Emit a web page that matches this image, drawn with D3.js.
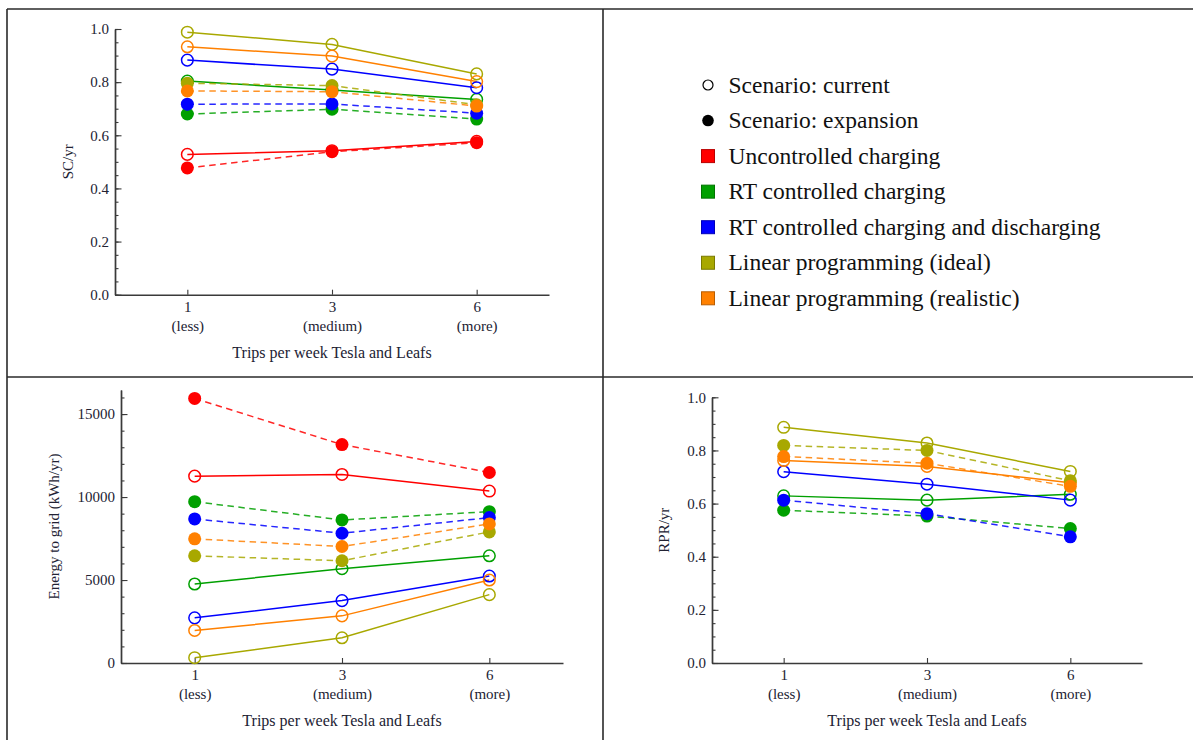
<!DOCTYPE html>
<html>
<head>
<meta charset="utf-8">
<script src="https://cdn.jsdelivr.net/npm/d3@7"></script>
<style>
  html, body { margin: 0; padding: 0; background: #fff; }
  svg { display: block; }
  text { font-family: "Liberation Serif", "Times New Roman", serif; }
</style>
</head>
<body>
<svg id="chart" width="1193" height="740"></svg>
<script>
// ---- data ----
const tripCategories = ["1", "3", "6"];
const tripLabels = ["(less)", "(medium)", "(more)"];
const methodNames = [
  "Uncontrolled charging",
  "RT controlled charging",
  "RT controlled charging and discharging",
  "Linear programming (ideal)",
  "Linear programming (realistic)"
];
const scenarioNames = ["Scenario: current", "Scenario: expansion"];
const xAxisTitle = "Trips per week Tesla and Leafs";

// rows follow methodNames, columns follow tripCategories
const scCurrent = [
  [0.528, 0.542, 0.577],
  [0.804, 0.770, 0.735],
  [0.883, 0.849, 0.779],
  [0.988, 0.942, 0.831],
  [0.933, 0.898, 0.802]
];
const scExpansion = [
  [0.477, 0.538, 0.572],
  [0.680, 0.698, 0.661],
  [0.717, 0.718, 0.683],
  [0.796, 0.787, 0.715],
  [0.767, 0.764, 0.710]
];
const gridCurrent = [
  [11260, 11360, 10360],
  [4760, 5680, 6460],
  [2720, 3760, 5240],
  [320, 1520, 4120],
  [1960, 2840, 5000]
];
const gridExpansion = [
  [15940, 13160, 11480],
  [9720, 8620, 9120],
  [8680, 7820, 8760],
  [6460, 6160, 7900],
  [7480, 7020, 8380]
];
const rprCurrent = [
  null,
  [0.629, 0.613, 0.635],
  [0.720, 0.673, 0.613],
  [0.887, 0.828, 0.721],
  [0.762, 0.740, 0.678]
];
const rprExpansion = [
  null,
  [0.575, 0.553, 0.506],
  [0.613, 0.562, 0.475],
  [0.819, 0.800, 0.686],
  [0.777, 0.752, 0.665]
];

const ratioMajorTicks = [0, 0.2, 0.4, 0.6, 0.8, 1.0];
const ratioMinorTicks = d3.range(0, 1.0001, 0.05);
const gridMajorTicks = [0, 5000, 10000, 15000];
const gridMinorTicks = d3.range(0, 16001, 1000);

// ---- styling ----
const methodColors = ["#ff0000", "#00a000", "#0000ff", "#a8a800", "#ff8000"];
const axisColor = "#3a3a3a";
const labelColor = "#222233";
const tickFont = 15;
const titleFont = 16;

const svg = d3.select("#chart");

// table frame around the four cells
const frame = svg.append("g").attr("stroke", "#2a2a2a").attr("stroke-width", 1.6);
frame.append("line").attr("x1", 7).attr("y1", 9).attr("x2", 1193).attr("y2", 9);
frame.append("line").attr("x1", 7).attr("y1", 9).attr("x2", 7).attr("y2", 740);
frame.append("line").attr("x1", 603).attr("y1", 9).attr("x2", 603).attr("y2", 740);
frame.append("line").attr("x1", 7).attr("y1", 377).attr("x2", 1193).attr("y2", 377);

const panels = [
  { current: scCurrent, expansion: scExpansion, yTitle: "SC/yr",
    x0: 115, x1: 549, yTop: 29, yBot: 294.7, domain: [0, 1],
    major: ratioMajorTicks, minor: ratioMinorTicks, fmt: d3.format(".1f"), yTitleX: 73 },
  { current: gridCurrent, expansion: gridExpansion, yTitle: "Energy to grid (kWh/yr)",
    x0: 121, x1: 563, yTop: 390, yBot: 663, domain: [0, 16450],
    major: gridMajorTicks, minor: gridMinorTicks, fmt: d3.format("d"), yTitleX: 59 },
  { current: rprCurrent, expansion: rprExpansion, yTitle: "RPR/yr",
    x0: 712, x1: 1142, yTop: 397.3, yBot: 663, domain: [0, 1],
    major: ratioMajorTicks, minor: ratioMinorTicks, fmt: d3.format(".1f"), yTitleX: 669 }
];

function styleAxis(g) {
  g.attr("font-family", null).attr("font-size", null);
  g.select(".domain").attr("stroke", axisColor).attr("stroke-width", 1.4);
  g.selectAll(".tick line").attr("stroke", axisColor).attr("stroke-width", 1.1);
  g.selectAll(".tick text").attr("fill", labelColor).style("font-size", tickFont + "px");
}

function drawPanel(p) {
  const g = svg.append("g");
  const x = d3.scalePoint().domain(tripCategories).range([p.x0, p.x1]).padding(0.5);
  const y = d3.scaleLinear().domain(p.domain).range([p.yBot, p.yTop]);

  // minor y ticks
  g.append("g")
    .attr("transform", `translate(${p.x0},0)`)
    .call(d3.axisLeft(y).tickValues(p.minor).tickSizeInner(-3.5).tickSizeOuter(0).tickFormat(""))
    .call(styleAxis);
  // major y ticks
  g.append("g")
    .attr("transform", `translate(${p.x0},0)`)
    .call(d3.axisLeft(y).tickValues(p.major).tickSizeInner(-6.5).tickSizeOuter(0).tickPadding(6).tickFormat(p.fmt))
    .call(styleAxis);

  // x axis with two-line category labels
  const xg = g.append("g")
    .attr("transform", `translate(0,${p.yBot})`)
    .call(d3.axisBottom(x).tickSizeInner(-5).tickSizeOuter(0).tickPadding(6.5))
    .call(styleAxis);
  xg.selectAll(".tick").each(function (d, i) {
    d3.select(this).append("text")
      .attr("y", 36)
      .attr("text-anchor", "middle")
      .attr("fill", labelColor)
      .style("font-size", tickFont + "px")
      .text(tripLabels[i]);
  });

  // axis titles
  g.append("text")
    .attr("x", (p.x0 + p.x1) / 2)
    .attr("y", p.yBot + 63)
    .attr("text-anchor", "middle")
    .attr("fill", labelColor)
    .style("font-size", titleFont + "px")
    .text(xAxisTitle);
  g.append("text")
    .attr("transform", `translate(${p.yTitleX},${(p.yTop + p.yBot) / 2}) rotate(-90)`)
    .attr("text-anchor", "middle")
    .attr("fill", labelColor)
    .style("font-size", tickFont + "px")
    .text(p.yTitle);

  const line = d3.line().x((d, i) => x(tripCategories[i])).y(d => y(d));

  // lines: current solid, expansion dashed
  methodNames.forEach((m, k) => {
    if (p.current[k]) {
      g.append("path").datum(p.current[k])
        .attr("d", line).attr("fill", "none")
        .attr("stroke", methodColors[k]).attr("stroke-width", 1.5);
    }
    if (p.expansion[k]) {
      g.append("path").datum(p.expansion[k])
        .attr("d", line).attr("fill", "none")
        .attr("stroke", methodColors[k]).attr("stroke-width", 1.5)
        .attr("stroke-dasharray", "6.5,4.5").attr("stroke-opacity", 0.85);
    }
  });

  // markers: open circles for current, filled for expansion
  methodNames.forEach((m, k) => {
    if (!p.current[k]) return;
    g.append("g").selectAll("circle").data(p.current[k]).join("circle")
      .attr("cx", (d, i) => x(tripCategories[i])).attr("cy", d => y(d))
      .attr("r", 5.8).attr("fill", "none")
      .attr("stroke", methodColors[k]).attr("stroke-width", 1.5);
  });
  methodNames.forEach((m, k) => {
    if (!p.expansion[k]) return;
    g.append("g").selectAll("circle").data(p.expansion[k]).join("circle")
      .attr("cx", (d, i) => x(tripCategories[i])).attr("cy", d => y(d))
      .attr("r", 6.5).attr("fill", methodColors[k]);
  });
}

panels.forEach(drawPanel);

// legend
const legendItems = [
  { label: scenarioNames[0], kind: "open" },
  { label: scenarioNames[1], kind: "filled" },
  ...methodNames.map((m, k) => ({ label: m, kind: "swatch", color: methodColors[k] }))
];
const legend = svg.append("g").attr("transform", "translate(708,85)");
const rows = legend.selectAll("g").data(legendItems).join("g")
  .attr("transform", (d, i) => `translate(0,${i * 35.55})`);
rows.filter(d => d.kind === "open").append("circle")
  .attr("r", 5).attr("fill", "#fff").attr("stroke", "#000").attr("stroke-width", 1.2);
rows.filter(d => d.kind === "filled").append("circle")
  .attr("r", 5.8).attr("fill", "#000");
rows.filter(d => d.kind === "swatch").append("rect")
  .attr("x", -6.5).attr("y", -6.5).attr("width", 13).attr("height", 13)
  .attr("fill", d => d.color)
  .attr("stroke", d => d3.color(d.color).darker(0.9)).attr("stroke-width", 1);
rows.append("text")
  .attr("x", 20.5).attr("y", 7.5)
  .attr("fill", "#111")
  .style("font-size", "23.5px")
  .text(d => d.label);
</script>
</body>
</html>
